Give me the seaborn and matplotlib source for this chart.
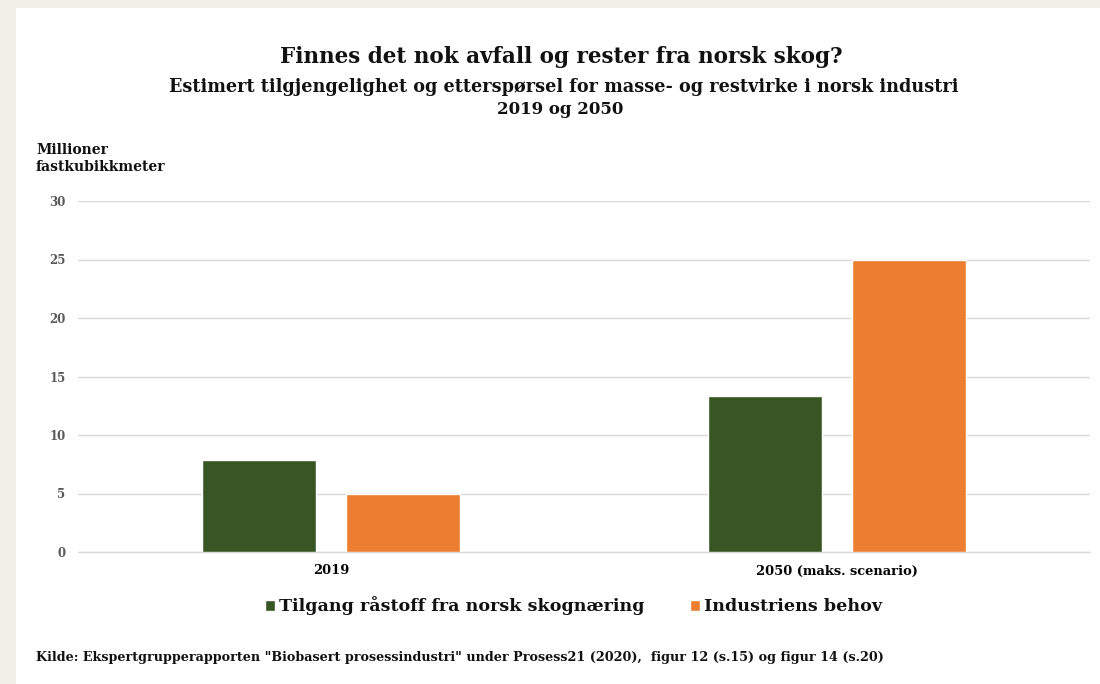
import matplotlib
matplotlib.use("Agg")
import matplotlib.pyplot as plt
import seaborn as sns
import pandas as pd
from matplotlib.patches import Rectangle

# ---- data ----
categories = ["2019", "2050 (maks. scenario)"]
series_names = ["Tilgang råstoff fra norsk skognæring", "Industriens behov"]
tilgang = [7.9, 13.3]
behov = [5.0, 25.0]
yticks = [0, 5, 10, 15, 20, 25, 30]

colors = ["#375623", "#ED7D31"]

df = pd.DataFrame({
    "kategori": categories * 2,
    "verdi": tilgang + behov,
    "serie": [series_names[0]] * len(categories) + [series_names[1]] * len(categories),
})

sns.set_theme(style="white")
SERIF = ["DejaVu Serif", "Liberation Serif"]
plt.rcParams["font.family"] = SERIF

W, H = 1100, 684
fig = plt.figure(figsize=(W / 100, H / 100), dpi=100)
fig.patch.set_facecolor("#f2eee8")
fig.add_artist(Rectangle((16 / W, 0), 1 - 16 / W, 1 - 8 / H, transform=fig.transFigure,
                         facecolor="white", edgecolor="none", zorder=0))

def fx(px):
    return px / W

def fy(py):
    return 1 - py / H

ax = fig.add_axes([fx(78), fy(552), fx(1090) - fx(78), fy(201) - fy(552)])
ax.set_facecolor("none")

sns.barplot(data=df, x="kategori", y="verdi", hue="serie", palette=colors,
            hue_order=series_names, order=categories, width=0.569, gap=0.208,
            saturation=1, ax=ax, zorder=3)

ax.set_ylim(0, 30)
ax.set_xlim(-0.5, len(categories) - 0.5)
ax.set_yticks(yticks)
ax.set_yticklabels([str(v) for v in yticks])
for s in ax.spines.values():
    s.set_visible(False)
ax.grid(axis="y", color="#d9d9d9", linewidth=1.0, zorder=0)
ax.grid(axis="x", visible=False)
ax.axhline(0, color="#d9d9d9", linewidth=1.0, zorder=2, clip_on=False)
ax.tick_params(axis="both", length=0)
ax.tick_params(axis="y", pad=9, labelsize=8.5, labelcolor="#595959")
ax.tick_params(axis="x", pad=9, labelsize=9.4, labelcolor="black")
for lab in ax.get_yticklabels() + ax.get_xticklabels():
    lab.set_fontweight("bold")
ax.set_xlabel("")
ax.set_ylabel("")

handles, labels = ax.get_legend_handles_labels()
if ax.get_legend() is not None:
    ax.get_legend().remove()
fig.legend(handles, labels, loc="center", bbox_to_anchor=(fx(574), fy(606)), ncol=2,
           frameon=False, handlelength=0.55, handleheight=0.55, handletextpad=0.25,
           columnspacing=2.6, labelcolor="#111111",
           prop={"family": SERIF, "weight": "bold", "size": 12.6})

fig.text(fx(561), fy(57), "Finnes det nok avfall og rester fra norsk skog?", ha="center", va="center",
         fontsize=15.5, fontweight="bold", color="#111111")
fig.text(fx(564), fy(87), "Estimert tilgjengelighet og etterspørsel for masse- og restvirke i norsk industri",
         ha="center", va="center", fontsize=12.7, fontweight="bold", color="#111111")
fig.text(fx(560), fy(110), "2019 og 2050", ha="center", va="center", fontsize=12,
         fontweight="bold", color="#111111")
fig.text(fx(36), fy(150), "Millioner", ha="left", va="center", fontsize=10,
         fontweight="bold", color="#111111")
fig.text(fx(36), fy(167), "fastkubikkmeter", ha="left", va="center", fontsize=10,
         fontweight="bold", color="#111111")
fig.text(fx(36), fy(657),
         'Kilde: Ekspertgrupperapporten "Biobasert prosessindustri" under Prosess21 (2020),  figur 12 (s.15) og figur 14 (s.20)',
         ha="left", va="center", fontsize=9.2, fontweight="bold", color="#111111")

fig.savefig("out.png", dpi=100, facecolor=fig.get_facecolor())
